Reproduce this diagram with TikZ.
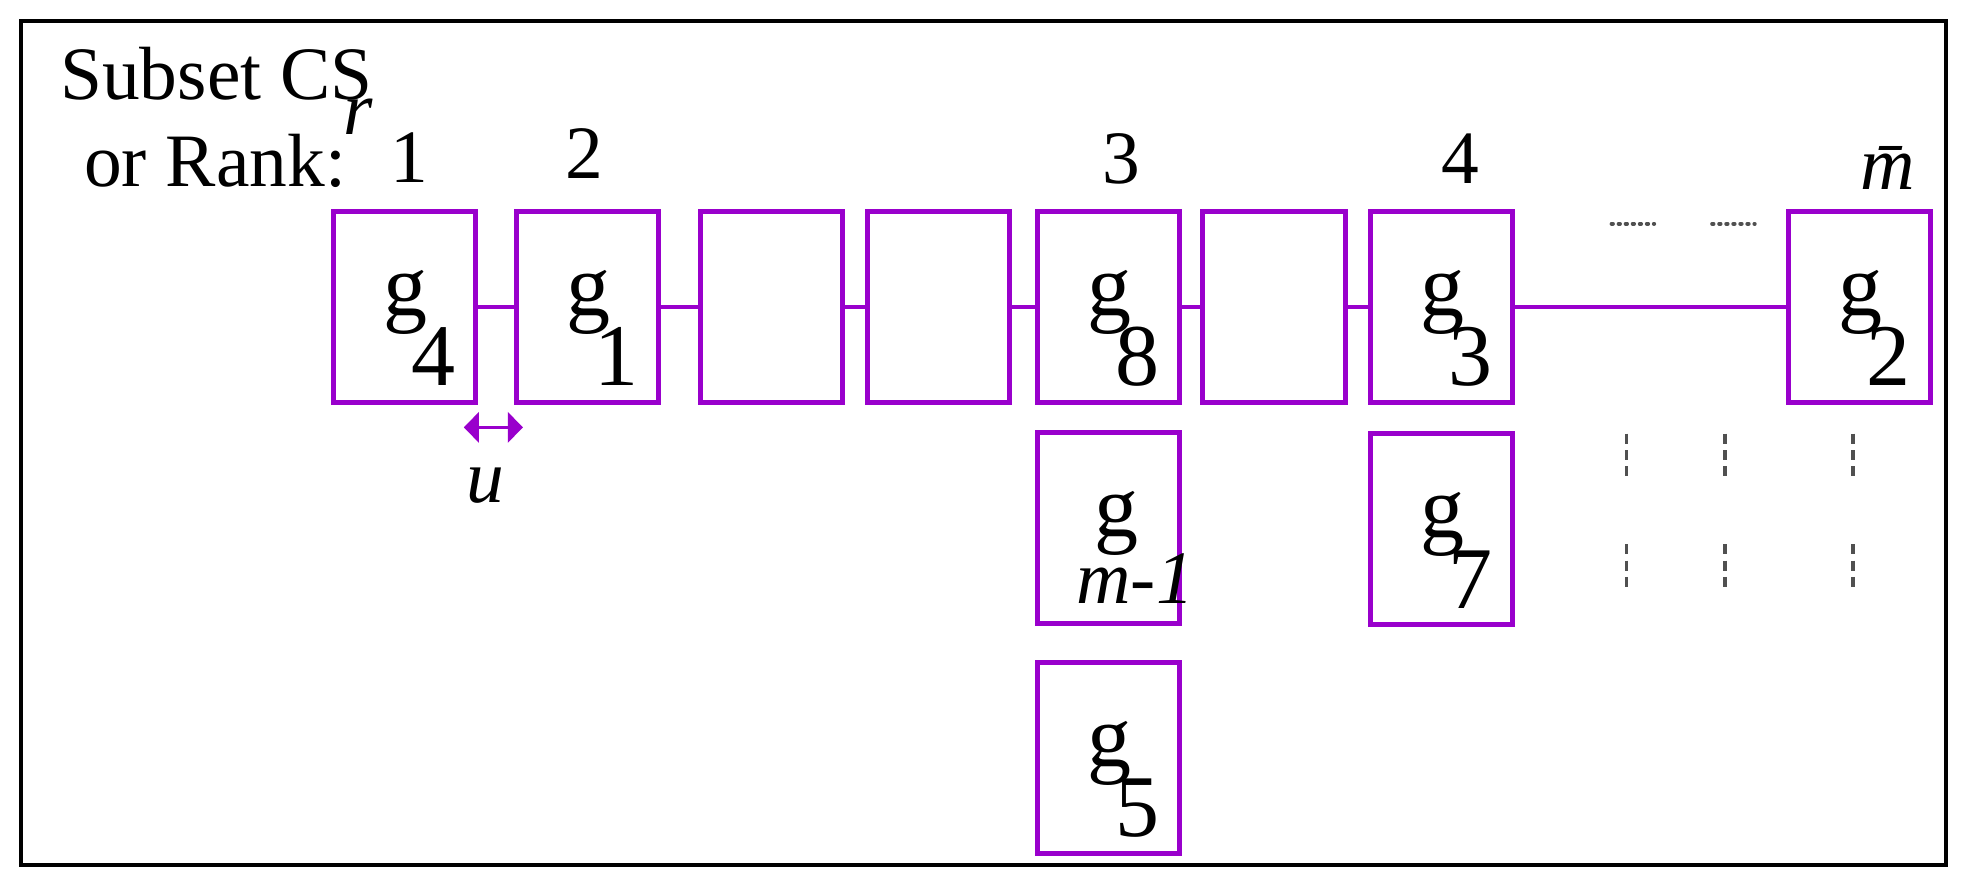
\documentclass[tikz,border=0pt]{standalone}
\usepackage{fontspec}
\setmainfont{Liberation Serif}
\usetikzlibrary{arrows.meta}
\definecolor{cpurple}{RGB}{153,0,204}
\definecolor{cdots}{RGB}{80,80,80}
\newcommand{\gsub}[1]{g\kern-0.18em\raisebox{-0.8em}{#1}}
\begin{document}
\begin{tikzpicture}[x=0.5pt,y=-0.5pt, inner sep=0pt, outer sep=0pt,
  slot/.style={draw=cpurple,line width=2pt,minimum width=56.5pt,minimum height=76pt},
  gtext/.style={font=\fontsize{35}{35}\selectfont,xshift=6pt,yshift=-8.5pt},
  link/.style={draw=cpurple,line width=1.5pt},
  rank/.style={font=\fontsize{30}{30}\selectfont},
  gap/.style={draw=cdots,line width=1.5pt,line cap=round,dash pattern=on 0.6pt off 2.2pt}]
\useasboundingbox (0,0) rectangle (1568,705);
  \draw[line width=1.6pt] (17,17) rectangle (1548,688);
  % labels
  \node[rank,anchor=base west] (subset) at (48,79) {Subset CS};
  \node[rank,anchor=base] (sub r) at (285,107) {\itshape r};
  \node[rank,anchor=base west] (rank label) at (67,148) {or Rank:};
  \node[rank,anchor=base] (rank1) at (326,145) {1};
  \node[rank,anchor=base] (rank2) at (465,142) {2};
  \node[rank,anchor=base] (rank3) at (892,146) {3};
  \node[rank,anchor=base] (rank4) at (1162,146) {4};
  \node[rank,anchor=base] (rankm) at (1502,151) {\itshape \=m};
  % slots, top row
  \node[slot] (s1) at (321.5,244) {};
  \node[slot] (s2) at (467.5,244) {};
  \node[slot] (s3) at (613.5,244) {};
  \node[slot] (s4) at (746.5,244) {};
  \node[slot] (s5) at (881.5,244) {};
  \node[slot] (s6) at (1013.5,244) {};
  \node[slot] (s7) at (1146.5,244) {};
  \node[slot] (s8) at (1479.5,244) {};
  % stacked slots
  \node[slot] (s5b) at (881.5,420) {};
  \node[slot] (s5c) at (881.5,603) {};
  \node[slot] (s7b) at (1146.5,421) {};
  \foreach \s/\i in {s1/4,s2/1,s5/8,s7/3,s8/2,s5c/5,s7b/7}
    \node[gtext] (g\i) at (\s) {\gsub{\i}};
  \node[rank,font=\fontsize{35}{35}\selectfont,anchor=base] (g m1) at (888,427) {g};
  \node[rank,anchor=base] (m1) at (903,480) {\itshape m-1};
  \foreach \a/\b in {s1/s2,s2/s3,s3/s4,s4/s5,s5/s6,s6/s7,s7/s8}
    \draw[link] (\a) -- (\b);
  % spacing u
  \coordinate (u a) at (369,340);
  \coordinate (u b) at (416,340);
  \draw[cpurple,line width=1.3pt,{Triangle[width=12pt,length=6pt]}-{Triangle[width=12pt,length=6pt]}] (u a) -- (u b);
  \node[rank,anchor=base] (u) at (386,400) {\itshape u};
  % continuation marks
  \draw[gap] (1282,178) -- (1316,178);
  \draw[gap] (1362,178) -- (1396,178);
  \foreach \x in {1294,1372,1474} {
    \draw[gap,dash pattern=on 4pt off 2.5pt,line cap=butt] (\x,345) -- (\x,382);
    \draw[gap,dash pattern=on 4pt off 2.5pt,line cap=butt] (\x,433) -- (\x,471);
  }
\end{tikzpicture}
\end{document}
